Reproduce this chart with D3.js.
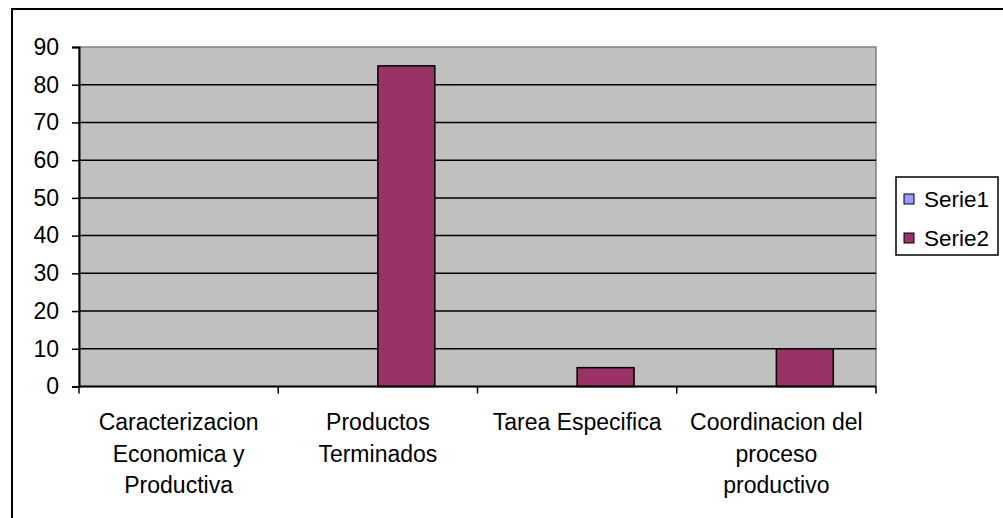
<!DOCTYPE html>
<html>
<head>
<meta charset="utf-8">
<script src="https://cdn.jsdelivr.net/npm/d3@7"></script>
<style>
  html, body { margin: 0; padding: 0; background: #fff; }
  svg text { font-family: "Liberation Sans", Arial, sans-serif; fill: #000; }
</style>
</head>
<body>
<svg id="chart" width="1003" height="518"></svg>
<script>
const categories = [
  ["Caracterizacion", "Economica y", "Productiva"],
  ["Productos", "Terminados"],
  ["Tarea Especifica"],
  ["Coordinacion del", "proceso", "productivo"]
];
const seriesNames = ["Serie1", "Serie2"];
const serie1 = [0, 0, 0, 0];
const serie2 = [0, 85, 5, 10];
const yTicks = [0, 10, 20, 30, 40, 50, 60, 70, 80, 90];
const colors = ["#9999FF", "#993366"];

const svg = d3.select("#chart");
const plot = { left: 79, right: 876, top: 47, bottom: 386.5 };
const fs = 23;

// outer frame
svg.append("rect").attr("x", 12).attr("y", 9).attr("width", 1100).attr("height", 700)
  .attr("fill", "#fff").attr("stroke", "#000").attr("stroke-width", 2);

const x = d3.scaleBand().domain(d3.range(categories.length))
  .range([plot.left, plot.right]).paddingInner(0).paddingOuter(0);
const y = d3.scaleLinear().domain([0, 90]).range([plot.bottom, plot.top]);

// plot background
svg.append("rect").attr("x", plot.left).attr("y", plot.top)
  .attr("width", plot.right - plot.left).attr("height", plot.bottom - plot.top)
  .attr("fill", "#C0C0C0").attr("stroke", "#808080").attr("stroke-width", 1.5);

// gridlines
svg.append("g").selectAll("line").data(yTicks.filter(d => d > 0 && d < 90)).join("line")
  .attr("x1", plot.left).attr("x2", plot.right)
  .attr("y1", d => y(d)).attr("y2", d => y(d))
  .attr("stroke", "#000").attr("stroke-width", 1.5);

// bars
const gap = 1.5;
const bw = x.bandwidth() / (seriesNames.length + gap);
const data = [];
categories.forEach((c, i) => {
  [serie1, serie2].forEach((s, j) => data.push({ i, j, v: s[i] }));
});
svg.append("g").selectAll("rect").data(data.filter(d => d.v > 0)).join("rect")
  .attr("x", d => x(d.i) + bw * gap / 2 + d.j * bw)
  .attr("y", d => y(d.v))
  .attr("width", bw)
  .attr("height", d => y(0) - y(d.v))
  .attr("fill", d => colors[d.j])
  .attr("stroke", "#000").attr("stroke-width", 1.5);

// y axis
const yAxis = d3.axisLeft(y).tickValues(yTicks).tickSize(7).tickPadding(13);
const gy = svg.append("g").attr("transform", `translate(${plot.left},0)`).call(yAxis);
gy.select(".domain").attr("stroke", "#000").attr("stroke-width", 2);
gy.selectAll(".tick line").attr("stroke", "#000").attr("stroke-width", 1.5);
gy.selectAll(".tick text").attr("font-size", fs).attr("font-family", "Liberation Sans, Arial, sans-serif");

// x axis
const gx = svg.append("g").attr("transform", `translate(0,${plot.bottom})`);
gx.append("line").attr("x1", plot.left).attr("x2", plot.right).attr("y1", 0).attr("y2", 0)
  .attr("stroke", "#000").attr("stroke-width", 2);
const tickPos = d3.range(categories.length + 1).map(i => i < categories.length ? x(i) : plot.right);
gx.selectAll("line.tk").data(tickPos).join("line").attr("class", "tk")
  .attr("x1", d => d).attr("x2", d => d).attr("y1", 0).attr("y2", 7)
  .attr("stroke", "#000").attr("stroke-width", 1.5);

const labels = svg.append("g");
categories.forEach((lines, i) => {
  const t = labels.append("text").attr("text-anchor", "middle").attr("font-size", fs);
  lines.forEach((ln, k) => {
    t.append("tspan").attr("x", x(i) + x.bandwidth() / 2).attr("y", 430 + k * 31.5).text(ln);
  });
});

// legend
const lg = svg.append("g");
lg.append("rect").attr("x", 896).attr("y", 177).attr("width", 102).attr("height", 78)
  .attr("fill", "#fff").attr("stroke", "#000").attr("stroke-width", 1.5);
seriesNames.forEach((s, j) => {
  const cy = 199 + j * 39;
  lg.append("rect").attr("x", 904).attr("y", cy - 5).attr("width", 10).attr("height", 10)
    .attr("fill", colors[j]).attr("stroke", "#000").attr("stroke-width", 1);
  lg.append("text").attr("x", 924).attr("y", cy + 8).attr("font-size", 22.5).text(s);
});
</script>
</body>
</html>
